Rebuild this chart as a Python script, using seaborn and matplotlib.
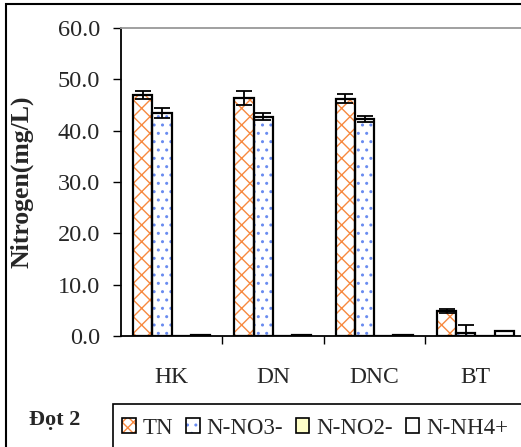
import numpy as np
import pandas as pd
import matplotlib
matplotlib.use("Agg")
import matplotlib.pyplot as plt
import seaborn as sns
from matplotlib.patches import Rectangle, Patch
from matplotlib.legend_handler import HandlerTuple

sites = ["HK", "DN", "DNC", "BT"]
params = ["TN", "N-NO3-", "N-NO2-", "N-NH4+"]
tn = [46.9, 46.4, 46.2, 4.9]
tn_err = [0.8, 1.4, 0.9, 0.4]
no3 = [43.5, 42.7, 42.3, 0.6]
no3_err = [1.0, 0.7, 0.6, 1.6]
no2 = [0.02, 0.02, 0.02, 0.02]
no2_err = [0.0, 0.0, 0.0, 0.0]
nh4 = [0.1, 0.1, 0.1, 1.0]
nh4_err = [0.0, 0.0, 0.0, 0.0]
yticks = [0, 10, 20, 30, 40, 50, 60]
title_text = "Đọt 2"
ylabel = "Nitrogen(mg/L)"

values = {"TN": tn, "N-NO3-": no3, "N-NO2-": no2, "N-NH4+": nh4}
errors = {"TN": tn_err, "N-NO3-": no3_err, "N-NO2-": no2_err, "N-NH4+": nh4_err}
df = pd.DataFrame([(s, p, values[p][i]) for p in params for i, s in enumerate(sites)],
                  columns=["site", "param", "value"])

sns.set_style("white")
plt.rcParams["font.family"] = ["Liberation Serif", "DejaVu Serif"]
plt.rcParams["hatch.linewidth"] = 1.0

W, H = 521, 447
fig = plt.figure(figsize=(W / 100, H / 100), dpi=100)
ax = fig.add_axes([121 / W, 1 - 336 / H, (526 - 121) / W, (336 - 28) / H])

hatch_col = {"TN": "#F7893F", "N-NO3-": "#6A8CF0", "N-NO2-": "#FFFFC8", "N-NH4+": "white"}
face = {"TN": "white", "N-NO3-": "white", "N-NO2-": "#FFFFC8", "N-NH4+": "white"}
hatches = {"TN": "xx", "N-NO3-": "..", "N-NO2-": "", "N-NH4+": ""}

sns.barplot(data=df, x="site", y="value", hue="param", order=sites, hue_order=params,
            palette=face, width=0.76, ax=ax, legend=False, errorbar=None, saturation=1)

containers = ax.containers
for p, cont in zip(params, containers):
    for i, bar in enumerate(cont.patches):
        bar.set_facecolor(face[p])
        bar.set_edgecolor(hatch_col[p])
        bar.set_hatch(hatches[p])
        bar.set_linewidth(0)
        x0, y0 = bar.get_x(), bar.get_y()
        w, h = bar.get_width(), bar.get_height()
        ax.add_patch(Rectangle((x0, y0), w, h, fill=False, edgecolor="black", lw=1.6, zorder=3))
        e = errors[p][i]
        if e > 0:
            ax.errorbar(x0 + w / 2, h, yerr=e, fmt="none", ecolor="black", elinewidth=1.3,
                        capsize=6, capthick=1.3, zorder=4)

ax.set_xlim(-0.5, 3.5)
ax.set_ylim(0, 60)
ax.set_yticks(yticks)
ax.set_yticklabels([f"{v:.1f}" for v in yticks])
ax.set_xticks(range(len(sites)))
ax.set_xticklabels(sites)
ax.set_xticks([0.5, 1.5, 2.5], minor=True)
ax.tick_params(axis="x", which="major", length=0, pad=22, labelsize=17)
ax.tick_params(axis="x", which="minor", length=6, width=1, color="black", direction="out", bottom=True)
ax.tick_params(axis="y", length=6, width=1, color="black", direction="out", pad=9, labelsize=17.5, left=True)
ax.set_xlabel("")
ax.set_ylabel(ylabel, fontsize=18.5, fontweight="bold")
ax.yaxis.set_label_coords(-88 / 405, 0.5)

for s in ["left", "bottom"]:
    ax.spines[s].set_color("black")
    ax.spines[s].set_linewidth(1.3)
ax.spines["top"].set_color("#999999")
ax.spines["top"].set_linewidth(1.3)
ax.spines["right"].set_visible(False)

# outer frame
fig.patches.append(Rectangle((6 / W, -0.1), 1.2, 1 - 4 / H + 0.1, transform=fig.transFigure,
                             fill=False, edgecolor="black", lw=1.5))
# legend box
fig.patches.append(Rectangle((113 / W, -0.1), 1.2, 1 - 404 / H + 0.1, transform=fig.transFigure,
                             fill=False, edgecolor="black", lw=1.2))
fig.text(29 / W, 1 - 420 / H, title_text, fontsize=16, fontweight="bold", va="center", ha="left")

handles = []
for p in params:
    h1 = Patch(facecolor=face[p], edgecolor=hatch_col[p], hatch="xxx" if p == "TN" else hatches[p], lw=0)
    h2 = Patch(facecolor="none", edgecolor="black", lw=1.2)
    handles.append((h1, h2))
fig.legend(handles, params, handler_map={tuple: HandlerTuple(ndivide=1)},
           loc="center left", bbox_to_anchor=(122 / W, 1 - 428 / H), ncol=4, frameon=False,
           fontsize=16.5, handlelength=0.6, handleheight=0.6, handletextpad=0.3,
           columnspacing=0.55, borderpad=0, borderaxespad=0)

fig.savefig("out.png", dpi=100)
